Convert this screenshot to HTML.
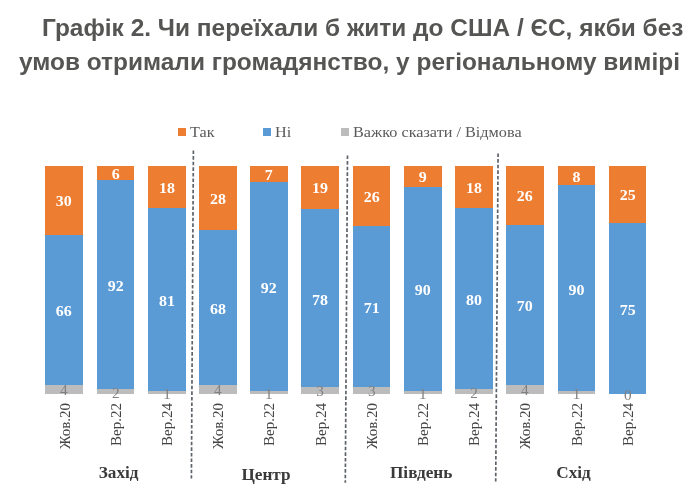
<!DOCTYPE html>
<html lang="uk"><head><meta charset="utf-8"><title>Графік 2</title>
<style>
html,body{margin:0;padding:0;background:#fff;}
body{width:690px;height:503px;position:relative;overflow:hidden;font-family:"Liberation Serif",serif;}
#w{position:absolute;left:0;top:0;width:690px;height:503px;filter:blur(0.55px);}
.t{position:absolute;font-family:"Liberation Sans",sans-serif;font-weight:bold;color:#555553;font-size:23.2px;line-height:28px;white-space:nowrap;transform-origin:0 0;transform:scaleX(1.054);}
.bar{position:absolute;}
.dl{position:absolute;color:#fff;font-weight:bold;font-size:15.2px;line-height:16px;text-align:center;white-space:nowrap;transform:scaleX(1.05);}
.gl{position:absolute;color:#808080;font-size:14.5px;line-height:16px;text-align:center;white-space:nowrap;transform:scaleX(1.05);}
.xl{position:absolute;color:#444;font-size:15px;line-height:16px;white-space:nowrap;transform-origin:100% 0;transform:rotate(-90deg);}
.rg{position:absolute;color:#3a3a3a;font-weight:bold;font-size:17.2px;line-height:18px;white-space:nowrap;}
.lg{position:absolute;color:#5a5a5a;font-size:15.3px;line-height:16px;white-space:nowrap;transform-origin:0 0;transform:scaleX(1.06);}
.sq{position:absolute;width:8px;height:8px;}
svg{position:absolute;left:0;top:0;}
</style></head><body><div id="w">
<div class="t" id="t1" style="top:14.3px;left:42px">Графік 2. Чи переїхали б жити до США / ЄС, якби без</div>
<div class="t" id="t2" style="top:47.5px;left:18.7px">умов отримали громадянство, у регіональному вимірі</div>
<div class="sq" style="left:178px;top:127.9px;background:#ed7d31"></div><div class="lg" id="l1" style="left:189.5px;top:124px">Так</div>
<div class="sq" style="left:263.3px;top:127.9px;background:#5b9bd5"></div><div class="lg" id="l2" style="left:274.5px;top:124px">Ні</div>
<div class="sq" style="left:341px;top:127.9px;background:#bcbcbc"></div><div class="lg" id="l3" style="left:353px;top:124px">Важко сказати / Відмова</div>
<svg width="690" height="503" viewBox="0 0 690 503"><line x1="193.4" y1="150.5" x2="191.4" y2="478.4" stroke="#5e636a" stroke-width="1.7" stroke-dasharray="3.6 2"/><line x1="347.5" y1="155.5" x2="345.3" y2="482.7" stroke="#5e636a" stroke-width="1.7" stroke-dasharray="3.6 2"/><line x1="498.1" y1="153.5" x2="495.7" y2="481.6" stroke="#5e636a" stroke-width="1.7" stroke-dasharray="3.6 2"/></svg>
<div class="bar" style="left:45.4px;top:166.3px;width:37.7px;height:227.5px;background:linear-gradient(to bottom,#ed7d31 0,#ed7d31 68.85px,#5b9bd5 68.85px,#5b9bd5 218.80px,#bcbcbc 218.80px,#bcbcbc 100%)"></div><div class="dl" style="left:45.4px;width:37.7px;top:193.2px">30</div><div class="dl" style="left:45.4px;width:37.7px;top:303.1px">66</div><div class="gl" style="left:45.4px;width:37.7px;top:382.3px">4</div><div class="xl" id="x0" style="right:633.4px;top:403px">Жов.20</div>
<div class="bar" style="left:96.8px;top:166.3px;width:37.5px;height:227.5px;background:linear-gradient(to bottom,#ed7d31 0,#ed7d31 13.65px,#5b9bd5 13.65px,#5b9bd5 223.35px,#bcbcbc 223.35px,#bcbcbc 100%)"></div><div class="dl" style="left:96.8px;width:37.5px;top:165.6px">6</div><div class="dl" style="left:96.8px;width:37.5px;top:277.8px">92</div><div class="gl" style="left:96.8px;width:37.5px;top:384.5px">2</div><div class="xl" id="x1" style="right:582.0px;top:403px">Вер.22</div>
<div class="bar" style="left:147.5px;top:166.3px;width:38.1px;height:227.5px;background:linear-gradient(to bottom,#ed7d31 0,#ed7d31 41.55px,#5b9bd5 41.55px,#5b9bd5 225.30px,#bcbcbc 225.30px,#bcbcbc 100%)"></div><div class="dl" style="left:147.5px;width:38.1px;top:179.6px">18</div><div class="dl" style="left:147.5px;width:38.1px;top:292.7px">81</div><div class="gl" style="left:147.5px;width:38.1px;top:385.5px">1</div><div class="xl" id="x2" style="right:531.0px;top:403px">Вер.24</div>
<div class="bar" style="left:199.0px;top:166.3px;width:37.8px;height:227.5px;background:linear-gradient(to bottom,#ed7d31 0,#ed7d31 64.30px,#5b9bd5 64.30px,#5b9bd5 218.80px,#bcbcbc 218.80px,#bcbcbc 100%)"></div><div class="dl" style="left:199.0px;width:37.8px;top:191.0px">28</div><div class="dl" style="left:199.0px;width:37.8px;top:300.9px">68</div><div class="gl" style="left:199.0px;width:37.8px;top:382.3px">4</div><div class="xl" id="x3" style="right:479.7px;top:403px">Жов.20</div>
<div class="bar" style="left:250.3px;top:166.3px;width:37.4px;height:227.5px;background:linear-gradient(to bottom,#ed7d31 0,#ed7d31 15.93px,#5b9bd5 15.93px,#5b9bd5 225.30px,#bcbcbc 225.30px,#bcbcbc 100%)"></div><div class="dl" style="left:250.3px;width:37.4px;top:166.8px">7</div><div class="dl" style="left:250.3px;width:37.4px;top:279.9px">92</div><div class="gl" style="left:250.3px;width:37.4px;top:385.5px">1</div><div class="xl" id="x4" style="right:428.6px;top:403px">Вер.22</div>
<div class="bar" style="left:301.3px;top:166.3px;width:37.9px;height:227.5px;background:linear-gradient(to bottom,#ed7d31 0,#ed7d31 43.23px,#5b9bd5 43.23px,#5b9bd5 221.08px,#bcbcbc 221.08px,#bcbcbc 100%)"></div><div class="dl" style="left:301.3px;width:37.9px;top:180.4px">19</div><div class="dl" style="left:301.3px;width:37.9px;top:291.5px">78</div><div class="gl" style="left:301.3px;width:37.9px;top:383.4px">3</div><div class="xl" id="x5" style="right:377.4px;top:403px">Вер.24</div>
<div class="bar" style="left:352.8px;top:166.3px;width:37.7px;height:227.5px;background:linear-gradient(to bottom,#ed7d31 0,#ed7d31 59.55px,#5b9bd5 59.55px,#5b9bd5 221.08px,#bcbcbc 221.08px,#bcbcbc 100%)"></div><div class="dl" style="left:352.8px;width:37.7px;top:188.6px">26</div><div class="dl" style="left:352.8px;width:37.7px;top:299.6px">71</div><div class="gl" style="left:352.8px;width:37.7px;top:383.4px">3</div><div class="xl" id="x6" style="right:326.0px;top:403px">Жов.20</div>
<div class="bar" style="left:404.0px;top:166.3px;width:37.5px;height:227.5px;background:linear-gradient(to bottom,#ed7d31 0,#ed7d31 20.88px,#5b9bd5 20.88px,#5b9bd5 225.30px,#bcbcbc 225.30px,#bcbcbc 100%)"></div><div class="dl" style="left:404.0px;width:37.5px;top:169.2px">9</div><div class="dl" style="left:404.0px;width:37.5px;top:282.4px">90</div><div class="gl" style="left:404.0px;width:37.5px;top:385.5px">1</div><div class="xl" id="x7" style="right:274.9px;top:403px">Вер.22</div>
<div class="bar" style="left:454.8px;top:166.3px;width:37.9px;height:227.5px;background:linear-gradient(to bottom,#ed7d31 0,#ed7d31 41.55px,#5b9bd5 41.55px,#5b9bd5 223.35px,#bcbcbc 223.35px,#bcbcbc 100%)"></div><div class="dl" style="left:454.8px;width:37.9px;top:179.6px">18</div><div class="dl" style="left:454.8px;width:37.9px;top:291.8px">80</div><div class="gl" style="left:454.8px;width:37.9px;top:384.5px">2</div><div class="xl" id="x8" style="right:223.9px;top:403px">Вер.24</div>
<div class="bar" style="left:506.0px;top:166.3px;width:37.7px;height:227.5px;background:linear-gradient(to bottom,#ed7d31 0,#ed7d31 59.15px,#5b9bd5 59.15px,#5b9bd5 218.80px,#bcbcbc 218.80px,#bcbcbc 100%)"></div><div class="dl" style="left:506.0px;width:37.7px;top:188.4px">26</div><div class="dl" style="left:506.0px;width:37.7px;top:298.3px">70</div><div class="gl" style="left:506.0px;width:37.7px;top:382.3px">4</div><div class="xl" id="x9" style="right:172.8px;top:403px">Жов.20</div>
<div class="bar" style="left:557.8px;top:166.3px;width:37.2px;height:227.5px;background:linear-gradient(to bottom,#ed7d31 0,#ed7d31 19.34px,#5b9bd5 19.34px,#5b9bd5 225.30px,#bcbcbc 225.30px,#bcbcbc 100%)"></div><div class="dl" style="left:557.8px;width:37.2px;top:168.5px">8</div><div class="dl" style="left:557.8px;width:37.2px;top:281.6px">90</div><div class="gl" style="left:557.8px;width:37.2px;top:385.5px">1</div><div class="xl" id="x10" style="right:121.2px;top:403px">Вер.22</div>
<div class="bar" style="left:608.7px;top:166.3px;width:37.7px;height:227.5px;background:linear-gradient(to bottom,#ed7d31 0,#ed7d31 56.88px,#5b9bd5 56.88px,#5b9bd5 227.90px,#bcbcbc 227.90px,#bcbcbc 100%)"></div><div class="dl" style="left:608.7px;width:37.7px;top:187.2px">25</div><div class="dl" style="left:608.7px;width:37.7px;top:301.7px">75</div><div class="gl" style="left:608.7px;width:37.7px;top:386.8px">0</div><div class="xl" id="x11" style="right:70.1px;top:403px">Вер.24</div>
<div class="rg" style="left:98.8px;top:464.3px">Захід</div>
<div class="rg" style="left:241.4px;top:465.9px">Центр</div>
<div class="rg" style="left:390px;top:463.5px">Південь</div>
<div class="rg" style="left:556.3px;top:463.5px">Схід</div>
</div></body></html>
